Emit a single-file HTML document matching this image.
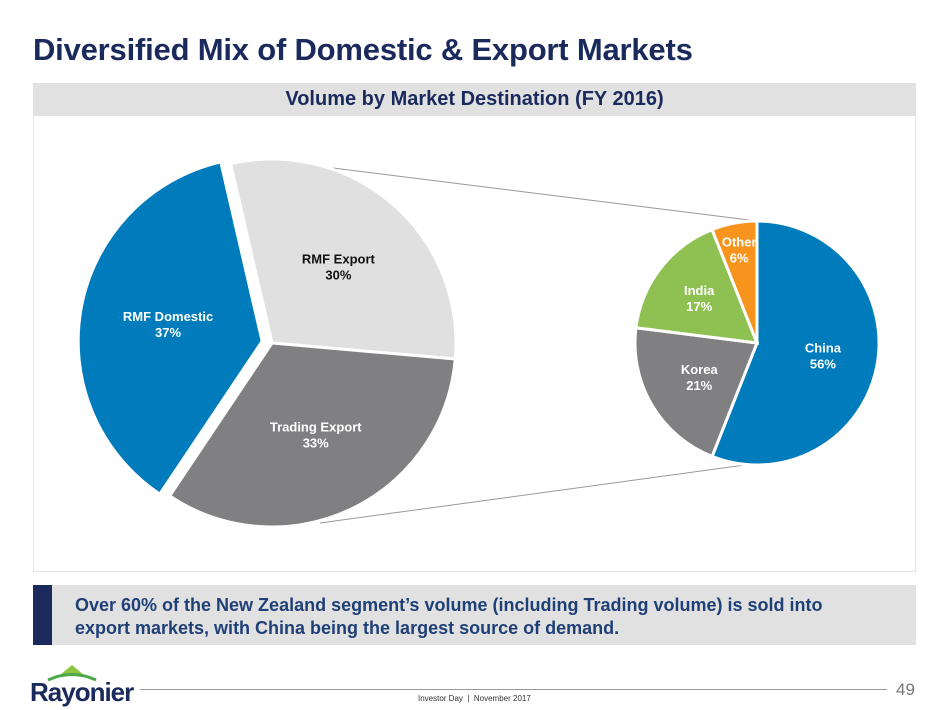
<!DOCTYPE html>
<html><head><meta charset="utf-8"><style>
body{margin:0;width:948px;height:710px;background:#fff;font-family:"Liberation Sans",Arial,sans-serif;position:relative;overflow:hidden}
.a{position:absolute}
</style></head><body>
<div class="a" style="left:33px;top:32px;font-size:31px;font-weight:bold;color:#1b2a5c;letter-spacing:-0.2px;white-space:nowrap">Diversified Mix of Domestic &amp; Export Markets</div>
<div class="a" style="left:33px;top:83px;width:883px;height:33px;background:#e1e1e1;text-align:center;line-height:33px;font-size:20px;font-weight:bold;color:#1b2a5c">Volume by Market Destination (FY 2016)</div>
<div class="a" style="left:33px;top:116px;width:881px;height:455px;border:1px solid #e4e4e4;border-top:none"></div>
<svg class="a" style="left:0;top:0" width="948" height="710" id="svg"></svg>
<div class="a" style="left:33px;top:585px;width:883px;height:60px;background:#e1e1e1"></div>
<div class="a" style="left:33px;top:585px;width:19px;height:60px;background:#1b2a5c"></div>
<div class="a" style="left:75px;top:594px;font-size:18px;font-weight:bold;color:#1f3f77;line-height:23px;white-space:nowrap">Over 60% of the New Zealand segment’s volume (including Trading volume) is sold into<br>export markets, with China being the largest source of demand.</div>
<div class="a" style="left:30px;top:663px;width:100px;height:44px">
<svg width="100" height="22" style="position:absolute;left:0;top:0"><polygon points="42,2 54,12 30,12" fill="#8dc63f"/><path d="M18,17 Q42,6 66,17" stroke="#4aa84a" stroke-width="3" fill="none"/></svg>
<div style="position:absolute;left:0;top:14px;font-size:26px;font-weight:bold;color:#1b2a5c;letter-spacing:-1px">Rayonier</div></div>
<div class="a" style="left:140px;top:689px;width:747px;height:1px;background:#999"></div>
<div class="a" style="left:418px;top:694px;font-size:8px;color:#333">Investor Day &nbsp;|&nbsp; November 2017</div>
<div class="a" style="left:896px;top:680px;font-size:17px;color:#777">49</div>
<script>
const bigLabels=["RMF Export","Trading Export","RMF Domestic"];
const bigValues=[30,33,37];
const smallLabels=["China","Korea","India","Other"];
const smallValues=[56,21,17,6];
const NS="http://www.w3.org/2000/svg";
const svg=document.getElementById('svg');
function pt(cx,cy,r,a){const t=a*Math.PI/180;return [cx+r*Math.sin(t),cy-r*Math.cos(t)];}
function mk(tag,attrs){const e=document.createElementNS(NS,tag);for(const k in attrs)e.setAttribute(k,attrs[k]);svg.appendChild(e);return e;}
function pie(cx,cy,r,start,labels,values,colors,txtColors,explode,labelR,name){
 const tot=values.reduce((a,b)=>a+b,0);let a=start;
 labels.forEach((l,i)=>{
  const span=values[i]/tot*360,mid=a+span/2;
  const off=explode[i]?pt(0,0,explode[i],mid):[0,0];
  const x=cx+off[0],y=cy+off[1];
  const p1=pt(x,y,r,a),p2=pt(x,y,r,a+span);
  const p=mk('path',{d:`M${x},${y}L${p1[0]},${p1[1]}A${r},${r} 0 ${span>180?1:0} 1 ${p2[0]},${p2[1]}Z`,fill:colors[i],stroke:'#fff','stroke-width':3});
  
  
  const lp=pt(x,y,r*labelR[i],mid);
  const t=mk('text',{x:lp[0],y:lp[1]-3,'text-anchor':'middle','font-size':13,'font-weight':'bold',fill:txtColors[i]});
  
  
  t.innerHTML=`<tspan x="${lp[0]}">${l}</tspan><tspan x="${lp[0]}" dy="16">${values[i]}%</tspan>`;
  a+=span;
 });
}
const l1=mk('line',{x1:333,y1:168,x2:757,y2:221,stroke:'#999','stroke-width':1});


const l2=mk('line',{x1:320,y1:523,x2:745,y2:465,stroke:'#999','stroke-width':1});


pie(272,343,184,-13,bigLabels,bigValues,['#e0e0e0','#808083','#007bbb'],['#111','#fff','#fff'],[0,0,10],[0.55,0.55,0.52],'big-pie');
pie(757,343,122,0,smallLabels,smallValues,['#007bbb','#808083','#8fc152','#f7941d'],['#fff','#fff','#fff','#fff'],[0,0,0,0],[0.55,0.55,0.6,0.78],'small-pie');
</script>
</body></html>
